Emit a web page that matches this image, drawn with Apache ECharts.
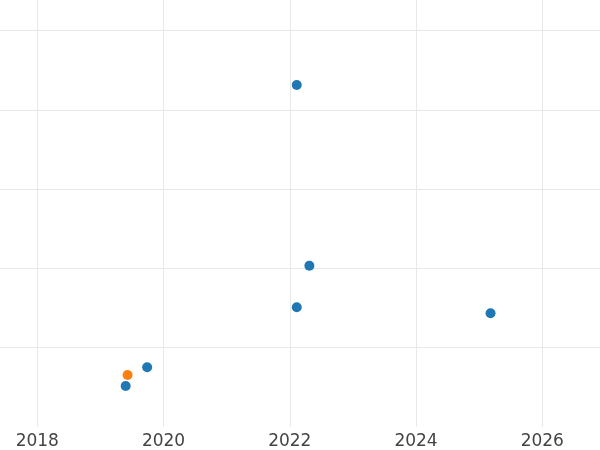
<!DOCTYPE html>
<html>
<head>
<meta charset="utf-8">
<script src="https://cdn.jsdelivr.net/npm/echarts@6/dist/echarts.min.js"></script>
<style>html,body{margin:0;padding:0;background:#fff}#c{width:600px;height:450px}</style>
</head>
<body>
<div id="c"></div>
<script>
// Series A (blue): [decimal year, value]
const blueX = [2022.11, 2022.31, 2022.11, 2025.18, 2019.74, 2019.40];
const blueY = [4.315, 2.035, 1.510, 1.435, 0.753, 0.517];
// Series B (orange)
const orangeX = [2019.43];
const orangeY = [0.656];
const xTicks = [2018, 2020, 2022, 2024, 2026];
const yTicks = [1, 2, 3, 4, 5];

const zip = (xs, ys) => xs.map((x, i) => [x, ys[i]]);

const chart = echarts.init(document.getElementById('c'), null, {renderer: 'canvas'});
chart.setOption({
  animation: false,
  backgroundColor: '#ffffff',
  grid: {left: 0, right: 0, top: 0, bottom: 23, containLabel: false, outerBoundsMode: 'none'},
  xAxis: {
    type: 'value',
    min: 2017.409, max: 2026.914,
    axisLine: {show: false},
    axisTick: {show: false, customValues: xTicks},
    axisLabel: {
      color: '#444444', fontSize: 17, fontFamily: 'DejaVu Sans', margin: 6,
      customValues: xTicks,
      formatter: v => String(Math.round(v))
    },
    splitLine: {show: true, lineStyle: {color: '#e8e8e8', width: 1}}
  },
  yAxis: {
    type: 'value',
    min: 0, max: 5.388,
    axisLine: {show: false},
    axisTick: {show: false, customValues: yTicks},
    axisLabel: {show: false, customValues: yTicks},
    splitLine: {show: true, lineStyle: {color: '#e8e8e8', width: 1}}
  },
  series: [
    {type: 'scatter', data: zip(blueX, blueY), symbolSize: 10, itemStyle: {color: '#1f77b4', opacity: 1}},
    {type: 'scatter', data: zip(orangeX, orangeY), symbolSize: 10, itemStyle: {color: '#ff7f0e', opacity: 1}}
  ]
});
</script>
</body>
</html>
